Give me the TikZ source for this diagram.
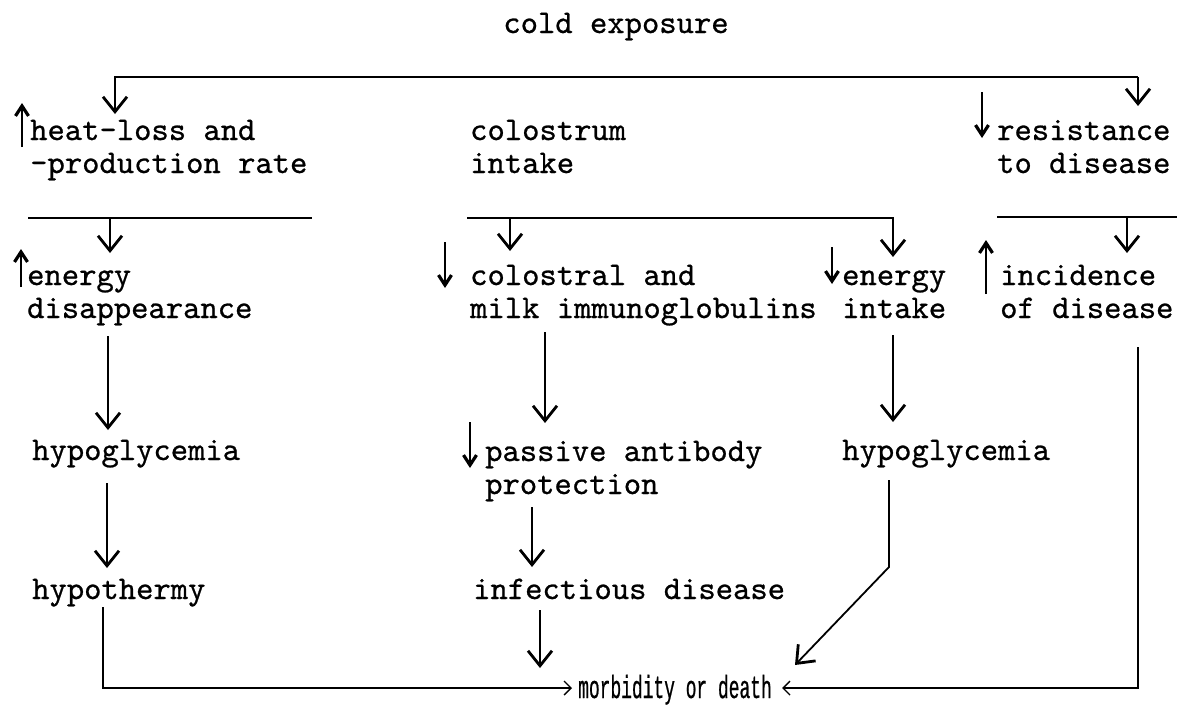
\documentclass[tikz,border=0pt]{standalone}
\usepackage{fontspec}
\newfontfamily\tw[Extension=.otf,FakeBold=0.7]{lmmono10-regular}
\newfontfamily\condfont[FakeStretch=0.56,FakeBold=0.6]{Liberation Mono}
\usetikzlibrary{arrows.meta}
\begin{document}
\begin{tikzpicture}[x=1pt,y=-1pt,
  txt/.style={inner sep=0pt, font=\tw\fontsize{33}{33}\selectfont, align=left, anchor=base west},
  ln/.style={line width=1.8pt},
  arr/.style={line width=1.8pt, -{Straight Barb[length=15pt,width=24pt,line width=2.8pt]}},
  ind/.style={line width=2.4pt, -{Straight Barb[length=10pt,width=13pt,line width=3.2pt]}},
  chev/.style={line width=1.6pt, -{Straight Barb[length=7pt,width=14pt,line width=1.4pt]}}]
\useasboundingbox[fill=white] (0,0) rectangle (1180,715);

% texts (base anchor = baseline of last line)
\node[txt, anchor=base] (cold) at (616,33) {cold exposure};
\node[txt] (heat) at (30,173) {heat-loss and\\-production rate};
\node[txt] (colos) at (470,173) {colostrum\\intake};
\node[txt] (resist) at (997,173) {resistance\\to disease};
\node[txt] (energyL) at (27,318) {energy\\disappearance};
\node[txt] (colostral) at (470,318) {colostral and\\milk immunoglobulins};
\node[txt] (energyM) at (842,318) {energy\\intake};
\node[txt] (incid) at (1000,318) {incidence\\of disease};
\node[txt] (hypoL) at (32,460) {hypoglycemia};
\node[txt] (passive) at (485,494) {passive antibody\\protection};
\node[txt] (hypoR) at (842,460) {hypoglycemia};
\node[txt] (hypoth) at (32,599) {hypothermy};
\node[txt] (infect) at (473,599) {infectious disease};
\node[inner sep=0pt, anchor=base, font=\condfont\fontsize{32}{33}\selectfont] (morb) at (675,698) {morbidity or death};

% top bus
\coordinate (tl) at (115,77);
\coordinate (tr) at (1138,77);
\draw[arr] (tr) -- (tl) -- (115,114);
\draw[arr] (tr) -- (1138,106);

% rules
\draw[ln] (28,218) -- (312,218);
\draw[arr] (110,218) -- (110,253);
\coordinate (ml) at (467,218);
\coordinate (mr) at (893,218);
\draw[arr] (ml) -- (mr) -- (893,257);
\draw[arr] (510,218) -- (510,251);
\draw[ln] (997,217) -- (1177,217);
\draw[arr] (1127,217) -- (1127,253);

% indicator arrows
\draw[ind] (22,147) -- (22,103);
\draw[ind] (21,287) -- (21,249);
\draw[ind] (445,242) -- (445,288);
\draw[ind] (832,247) -- (832,284);
\draw[ind] (986,294) -- (986,240);
\draw[ind] (982,92) -- (982,138);
\draw[ind] (470,422) -- (470,468);

% vertical flows
\draw[arr] (108,336) -- (108,430);
\draw[arr] (107,483) -- (107,568);
\draw[arr] (545,332) -- (545,423);
\draw[arr] (532,507) -- (532,567);
\draw[arr] (540,610) -- (540,668);
\draw[arr] (893,335) -- (893,422);
\draw[arr] (889,480) -- (889,567) -- (795,665);
\draw[chev] (103,607) -- (103,688) -- (572,688);
\draw[chev] (1138,347) -- (1138,688) -- (782,688);
\end{tikzpicture}
\end{document}
